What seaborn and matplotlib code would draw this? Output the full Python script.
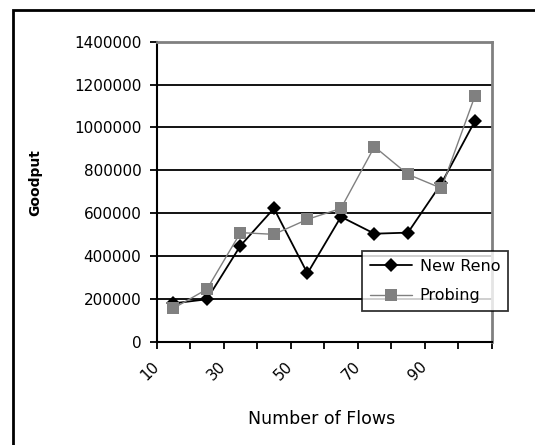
import numpy as np
import pandas as pd
import seaborn as sns
import matplotlib
matplotlib.use("Agg")
import matplotlib.pyplot as plt
from matplotlib.patches import Rectangle

flows = [10, 20, 30, 40, 50, 60, 70, 80, 90, 100]
new_reno = [179000, 198000, 448000, 622000, 319000, 583000, 504000, 509000, 739000, 1030000]
probing = [156000, 245000, 509000, 501000, 571000, 622000, 910000, 781000, 716000, 1147000]
y_ticks = [0, 200000, 400000, 600000, 800000, 1000000, 1200000, 1400000]

sns.set_theme(style="white")
plt.rcParams['font.family'] = ['DejaVu Sans']
plt.rcParams['text.color'] = 'black'
plt.rcParams['axes.labelcolor'] = 'black'
plt.rcParams['xtick.color'] = 'black'
plt.rcParams['ytick.color'] = 'black'

pos = np.arange(len(flows))
df = pd.DataFrame({
    "pos": np.concatenate([pos, pos]),
    "Goodput": new_reno + probing,
    "series": ["New Reno"] * len(flows) + ["Probing"] * len(flows),
})

W, H = 535, 445
fig = plt.figure(figsize=(W / 100, H / 100), dpi=100)
fig.patch.set_facecolor("white")

# outer chart frame (cropped at right and bottom)
fig.patches.append(Rectangle((12.7 / W, -0.1), 1.2, 1 - 9.5 / H + 0.1,
                             transform=fig.transFigure, fill=False,
                             edgecolor="black", linewidth=2.0))

left, right, top, bottom = 156.7 / W, 491.7 / W, 1 - 41.7 / H, 1 - 341.7 / H
ax = fig.add_axes([left, bottom, right - left, top - bottom])
ax.set_facecolor("white")

for yv in y_ticks[1:]:
    ax.axhline(yv, color="black", linewidth=1.3, zorder=1)

sns.lineplot(data=df, x="pos", y="Goodput", hue="series", style="series",
             palette={"New Reno": "black", "Probing": "#808080"},
             markers={"New Reno": "D", "Probing": "s"},
             dashes={"New Reno": "", "Probing": ""},
             markersize=7, ax=ax, zorder=3, legend=False)
for ln, lw, ms in zip(ax.lines[-2:], [1.3, 1.0], [7, 8]):
    ln.set_linewidth(lw)
    ln.set_markersize(ms)
    ln.set_markeredgewidth(0)

ax.set_xlim(-0.5, len(flows) - 0.5)
ax.set_ylim(0, 1400000)
ax.set_yticks(y_ticks)
ax.set_yticklabels([str(v) for v in y_ticks], fontsize=11)

bounds = np.arange(len(flows) + 1) - 0.5
ax.set_xticks(bounds)
labels = [str(f) if i % 2 == 0 else "" for i, f in enumerate(flows)] + [""]
ax.set_xticklabels(labels, fontsize=11, rotation=45, ha="right", va="center",
                   rotation_mode="anchor")
ax.tick_params(axis="x", length=5, width=1.3, color="black", direction="out",
               pad=11, bottom=True, labelcolor="black")
ax.tick_params(axis="y", length=5, width=1.3, color="black", direction="out",
               pad=6, left=True, labelcolor="black")

for s in ["left", "bottom"]:
    ax.spines[s].set_color("black")
    ax.spines[s].set_linewidth(1.5)
for s in ["right", "top"]:
    ax.spines[s].set_color("#808080")
    ax.spines[s].set_linewidth(2)

ax.set_xlabel("Number of Flows", fontsize=12.5, color="black")
ax.set_ylabel("Goodput", fontsize=10, fontweight="bold", color="black")
ax.xaxis.set_label_coords((322 - 156.7) / 335, (341.7 - 410) / 300)
ax.yaxis.set_label_coords((42 - 156.7) / 335, (341.7 - 183) / 300)

leg = ax.legend(handles=ax.lines[-2:], labels=["New Reno", "Probing"],
                loc="upper left", bbox_to_anchor=(362 / W, 1 - 251 / H),
                bbox_transform=fig.transFigure, fontsize=11.5,
                frameon=True, fancybox=False, shadow=False,
                handlelength=2.6, labelspacing=0.9, borderpad=0.5,
                handletextpad=0.5, borderaxespad=0)
leg.get_frame().set_edgecolor("black")
leg.get_frame().set_linewidth(1.3)
for t in leg.get_texts():
    t.set_color("black")
leg.set_zorder(5)

fig.savefig("out.png", dpi=100, facecolor="white")
